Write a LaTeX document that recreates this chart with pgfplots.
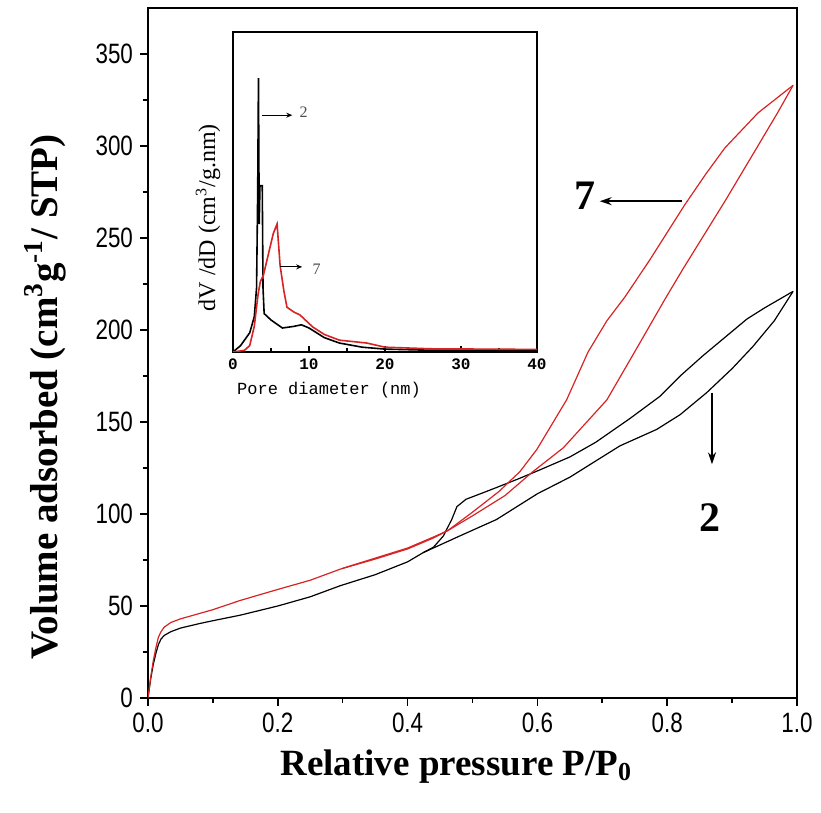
\documentclass[border=0pt]{standalone}
\usepackage{fontspec}
\setmainfont{Liberation Serif}
\newfontfamily\sansf{Liberation Sans}
\newfontfamily\monof{Liberation Mono}
\usepackage{graphicx}
\usepackage{pgfplots}
\pgfplotsset{compat=1.18}
\usetikzlibrary{arrows.meta}
\definecolor{myred}{RGB}{215,35,35}
\begin{document}
\begin{tikzpicture}
\path[use as bounding box] (-74pt,-57.5pt) rectangle (336.5pt,349pt);
\begin{axis}[
  at={(0,0)}, anchor=south west,
  scale only axis, width=324.5pt, height=345pt,
  xmin=0, xmax=1, ymin=0, ymax=375,
  xtick={0,0.2,0.4,0.6,0.8,1.0}, minor xtick={0.1,0.3,0.5,0.7,0.9},
  ytick={0,50,100,150,200,250,300,350}, minor ytick={25,75,125,175,225,275,325},
  tick align=outside, xtick pos=bottom, ytick pos=left,
  major tick length=4pt, minor tick length=2.5pt,
  axis line style={line width=1pt},
  every tick/.style={black, line width=0.8pt},
  /pgf/number format/assume math mode=true,
  tick label style={font=\sansf\fontsize{14}{14}\selectfont},
  xticklabel={\scalebox{0.8}[1]{\pgfmathprintnumber[fixed,fixed zerofill,precision=1]{\tick}}},
  yticklabel={\scalebox{0.8}[1]{\pgfmathprintnumber[fixed,precision=0]{\tick}}},
  xlabel={Relative pressure P/P\textsubscript{0}},
  ylabel={Volume adsorbed (cm\textsuperscript{3}g\textsuperscript{-1}/ STP)},
  label style={font=\bfseries\fontsize{19.5}{20}\selectfont},
  xlabel style={font=\bfseries\fontsize{18.5}{19}\selectfont, at={(axis description cs:0.475,-0.099)}, anchor=center},
  ylabel style={at={(axis description cs:-0.159,0.436)}, anchor=center},
]
% sample 2 adsorption
\addplot[black, line width=0.6pt] coordinates {
(0,0)(0.004,10)(0.008,18)(0.012,24)(0.016,29)(0.02,32)(0.025,34)(0.035,36)(0.05,38)(0.08,40.5)(0.1,42)(0.142,45)(0.2,50)(0.25,55)(0.296,61)(0.35,67)(0.4,74)(0.424,79)(0.48,88)(0.537,97)(0.6,111)(0.65,120)(0.727,137)(0.784,146)(0.82,154)(0.861,166)(0.9,179)(0.932,191)(0.965,205)(0.994,221)};
% sample 2 desorption
\addplot[black, line width=0.6pt] coordinates {
(0.994,221)(0.95,212)(0.923,206)(0.855,186)(0.82,175)(0.789,164)(0.743,152)(0.69,139)(0.65,131)(0.604,124)(0.57,119)(0.527,113)(0.49,108)(0.476,104)(0.468,97)(0.455,88)(0.44,82)(0.424,79)};
% sample 7 adsorption
\addplot[myred, line width=0.6pt] coordinates {
(0,0)(0.004,11)(0.008,20)(0.012,27)(0.016,33)(0.02,36)(0.025,38.5)(0.035,41)(0.05,43)(0.08,46)(0.1,48)(0.142,53)(0.2,59)(0.25,64)(0.296,70)(0.35,75.5)(0.4,81)(0.44,87)(0.462,91)(0.5,99)(0.55,110)(0.593,123)(0.64,136)(0.707,162)(0.753,190)(0.797,217)(0.824,233)(0.889,270)(0.938,299)(0.97,318)(0.994,333)};
% sample 7 desorption
\addplot[myred, line width=0.6pt] coordinates {
(0.994,333)(0.94,318)(0.889,299)(0.86,285)(0.827,268)(0.8,253)(0.773,238)(0.735,218)(0.707,205)(0.678,188)(0.645,162)(0.599,135)(0.573,123)(0.54,112)(0.5,101)(0.462,91)(0.44,87.5)(0.4,81.5)(0.35,76)(0.3,70.5)};
% annotations
\draw[-{Stealth[length=6pt,width=4pt]}, line width=0.8pt] (axis cs:0.823,270) -- (axis cs:0.696,270);
\node[font=\bfseries\fontsize{21}{21}\selectfont] at (axis cs:0.673,273) {7};
\draw[-{Stealth[length=6pt,width=4pt]}, line width=0.8pt] (axis cs:0.869,166) -- (axis cs:0.869,127);
\node[font=\bfseries\fontsize{21}{21}\selectfont] at (axis cs:0.866,98) {2};
\end{axis}
\begin{axis}[
  at={(42.5pt,173pt)}, anchor=south west,
  scale only axis, width=152pt, height=160pt,
  xmin=0, xmax=40, ymin=0, ymax=100,
  xtick={0,10,20,30,40}, minor xtick={5,15,25,35}, ytick=\empty,
  tick align=inside, xtick pos=bottom,
  major tick length=3pt, minor tick length=2pt,
  axis line style={line width=0.8pt},
  every tick/.style={black, line width=0.6pt},
  axis background/.style={fill=white},
  /pgf/number format/assume math mode=true,
  tick label style={font=\monof\bfseries\fontsize{8}{8}\selectfont},
  xlabel={Pore diameter (nm)},
  ylabel={dV /dD (cm\textsuperscript{3}/g.nm)},
  xlabel style={font=\monof\fontsize{8.5}{9}\selectfont, at={(axis description cs:0.316,-0.119)}, anchor=center},
  ylabel style={font=\fontsize{12}{12}\selectfont, at={(axis description cs:-0.082,0.42)}, anchor=center},
]
\addplot[black, line width=0.8pt] coordinates {
(0,0)(1,2)(2.2,6)(2.8,11)(3.1,20)(3.25,50)(3.35,85.6)(3.45,40)(3.55,52)(3.85,52)(3.95,20)(4.1,12)(5,10)(6.5,7.5)(8,8)(9,8.5)(10,7.5)(12,4.5)(14,2.8)(17,1.5)(20,0.9)(25,0.6)(40,0.6)};
\addplot[myred, line width=0.8pt] coordinates {
(0,0)(1.5,0.5)(2.2,2)(2.8,8)(3.3,18)(3.6,22)(4,24)(4.6,30)(5.3,37)(5.8,40)(6.2,27)(6.7,19)(7.1,14)(8,12.5)(8.8,11.6)(10.5,7.8)(12,5.5)(14,3.7)(17.6,2.8)(20,1.5)(26,1)(40,0.8)};
\draw[-{Stealth[length=3pt,width=2.5pt]}, line width=0.5pt] (axis cs:3.8,74) -- (axis cs:7.8,74);
\node[font=\fontsize{8}{8}\selectfont, text=black!70] at (axis cs:9.3,75) {2};
\draw[-{Stealth[length=3pt,width=2.5pt]}, line width=0.5pt] (axis cs:6.2,26.6) -- (axis cs:9.1,26.6);
\node[font=\fontsize{8}{8}\selectfont, text=black!70] at (axis cs:11,26) {7};
\end{axis}
\end{tikzpicture}
\end{document}
